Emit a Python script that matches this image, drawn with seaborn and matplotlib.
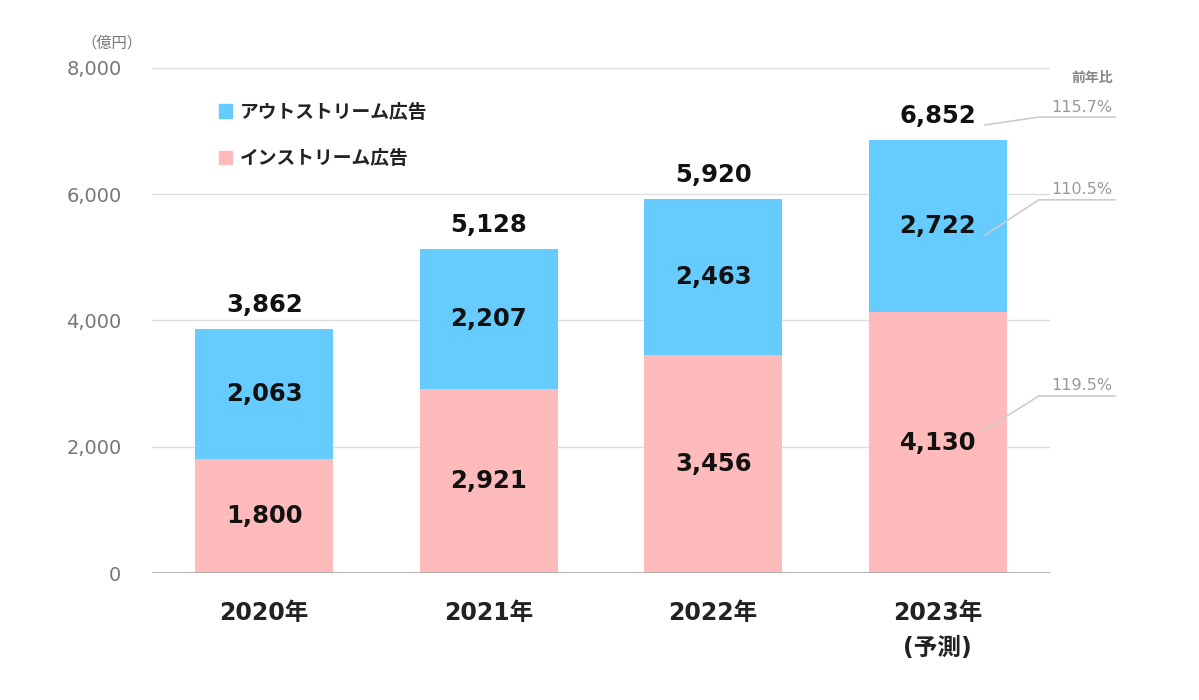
import pandas as pd
import numpy as np
import seaborn as sns
import matplotlib.pyplot as plt
from matplotlib.patches import Patch

years = ['2020年', '2021年', '2022年', '2023年\n(予測)']
instream = [1800, 2921, 3456, 4130]
outstream = [2063, 2207, 2463, 2722]
totals = [3862, 5128, 5920, 6852]
yoy_labels = ['115.7%', '110.5%', '119.5%']  # total, outstream, instream
yticks = [0, 2000, 4000, 6000, 8000]

blue = '#66CCFF'
pink = '#FFBBBB'

sns.set_theme(style='white')
plt.rcParams['font.family'] = ['DejaVu Sans', 'Noto Sans CJK JP']

df = pd.DataFrame({'year': years, 'instream': instream,
                   'outstream': outstream, 'total': totals})

fig = plt.figure(figsize=(11.99, 7), dpi=100)
ax = fig.add_axes([0.1268, 0.1814, 0.7489, 0.7215])

# stacked: full total in blue, instream in pink on top of it
sns.barplot(data=df, x='year', y='total', color=blue, saturation=1,
            width=0.613, linewidth=0, ax=ax, zorder=2)
sns.barplot(data=df, x='year', y='instream', color=pink, saturation=1,
            width=0.613, linewidth=0, ax=ax, zorder=3)

ax.set_xlim(-0.5, 3.5)
ax.set_ylim(0, 8000)
ax.set_yticks(yticks)
ax.set_yticklabels([f'{v:,}' for v in yticks], color='#777777', fontsize=14)
ax.tick_params(axis='y', length=0, pad=22)
ax.tick_params(axis='x', length=0, pad=20)
for lbl in ax.get_xticklabels():
    lbl.set_fontweight('bold')
    lbl.set_fontsize(17)
    lbl.set_color('#222222')
    lbl.set_linespacing(1.6)
    lbl.set_verticalalignment('top')
ax.set_xlabel('')
ax.set_ylabel('')
for s in ['top', 'right', 'left', 'bottom']:
    ax.spines[s].set_visible(False)
for v in yticks[1:]:
    ax.axhline(v, color='#dddddd', lw=1, zorder=1)
ax.axhline(0, color='#aaaaaa', lw=2, zorder=4)

# value labels
for i in range(len(years)):
    ax.text(i, instream[i] / 2, f'{instream[i]:,}', ha='center', va='center',
            fontsize=17.5, fontweight='bold', color='#111111', zorder=5)
    ax.text(i, instream[i] + outstream[i] / 2, f'{outstream[i]:,}',
            ha='center', va='center', fontsize=17.5, fontweight='bold',
            color='#111111', zorder=5)
    ax.text(i, totals[i] + 380, f'{totals[i]:,}', ha='center', va='center',
            fontsize=17.5, fontweight='bold', color='#111111', zorder=5)

ax.text(-0.045, 1.05, '（億円）', transform=ax.transAxes, ha='center',
        va='center', fontsize=11, color='#777777',
        family=['Noto Sans CJK JP'])

# year-on-year leaders for 2023
last = len(years) - 1
anchors = [totals[last] + 245, instream[last] + outstream[last] / 2 - 140,
           instream[last] / 2 + 200]
knees = [totals[last] + 370, instream[last] + outstream[last] / 2 + 420,
         instream[last] / 2 + 740]
for lab, ya, yk in zip(yoy_labels, anchors, knees):
    ax.plot([last + 0.21, last + 0.45, last + 0.79], [ya, yk, yk],
            color='#cccccc', lw=1.2, clip_on=False, zorder=5)
    ax.text(last + 0.64, yk + 40, lab, ha='center', va='bottom',
            fontsize=11.5, color='#999999', clip_on=False)
ax.text(last + 0.69, totals[last] + 990, '前年比', ha='center', va='center',
        fontsize=10, fontweight='bold', color='#888888',
        family=['Noto Sans CJK JP'])

handles = [Patch(color=blue, label='アウトストリーム広告'),
           Patch(color=pink, label='インストリーム広告')]
leg = ax.legend(handles=handles, loc='upper left', bbox_to_anchor=(0.056, 0.965),
                frameon=False, handlelength=0.7, handleheight=0.7,
                handletextpad=0.4, labelspacing=1.45,
                prop={'family': ['Noto Sans CJK JP'], 'weight': 'bold', 'size': 13.5})
for t in leg.get_texts():
    t.set_color('#222222')

fig.savefig('out.png', dpi=100, facecolor='white')
